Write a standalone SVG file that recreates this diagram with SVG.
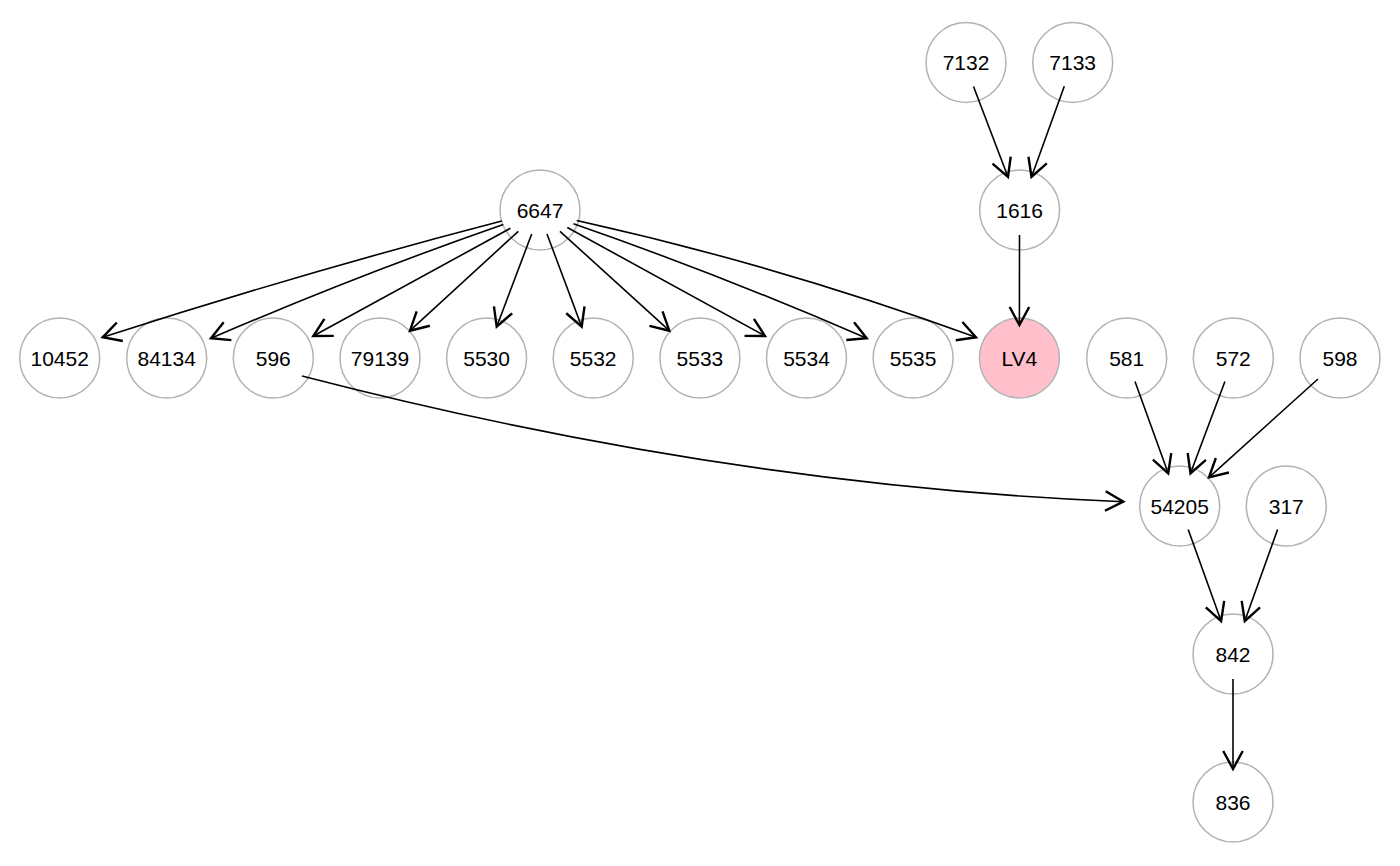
<svg xmlns="http://www.w3.org/2000/svg" width="1400" height="866" viewBox="0 0 1400 866">
<defs>
<marker id="arr" markerUnits="userSpaceOnUse" orient="auto" refX="0" refY="0" markerWidth="30" markerHeight="30" viewBox="-15 -10 20 20" overflow="visible">
<path d="M-12,-6.5 L0,0 L-12,6.5" fill="none" stroke="#000" stroke-width="1.6"/>
</marker>
<style>
.n circle{fill:#fff;stroke:#b3b3b3;stroke-width:1.5}
.n text{font-family:"Liberation Sans",Arial,sans-serif;font-size:21px;fill:#000;text-anchor:middle}
.e path{fill:none;stroke:#000;stroke-width:1.6;marker-end:url(#arr)}
#LV4 circle{fill:#ffc0cb}
</style>
</defs>
<rect width="1400" height="866" fill="#fff"/>
<g id="n7132" class="n"><circle cx="966" cy="62.5" r="40"/><text x="966" y="70">7132</text></g>
<g id="n7133" class="n"><circle cx="1072.7" cy="62.5" r="40"/><text x="1072.7" y="70">7133</text></g>
<g id="n6647" class="n"><circle cx="540" cy="210" r="40"/><text x="540" y="217.5">6647</text></g>
<g id="n1616" class="n"><circle cx="1019.6" cy="210" r="40"/><text x="1019.6" y="217.5">1616</text></g>
<g id="n10452" class="n"><circle cx="59.7" cy="358" r="40"/><text x="59.7" y="365.5">10452</text></g>
<g id="n84134" class="n"><circle cx="166.7" cy="358" r="40"/><text x="166.7" y="365.5">84134</text></g>
<g id="n596" class="n"><circle cx="273.3" cy="358" r="40"/><text x="273.3" y="365.5">596</text></g>
<g id="n79139" class="n"><circle cx="380" cy="358" r="40"/><text x="380" y="365.5">79139</text></g>
<g id="n5530" class="n"><circle cx="486.6" cy="358" r="40"/><text x="486.6" y="365.5">5530</text></g>
<g id="n5532" class="n"><circle cx="593.2" cy="358" r="40"/><text x="593.2" y="365.5">5532</text></g>
<g id="n5533" class="n"><circle cx="699.9" cy="358" r="40"/><text x="699.9" y="365.5">5533</text></g>
<g id="n5534" class="n"><circle cx="806.5" cy="358" r="40"/><text x="806.5" y="365.5">5534</text></g>
<g id="n5535" class="n"><circle cx="913.1" cy="358" r="40"/><text x="913.1" y="365.5">5535</text></g>
<g id="LV4" class="n"><circle cx="1019.4" cy="358" r="40"/><text x="1019.4" y="365.5">LV4</text></g>
<g id="n581" class="n"><circle cx="1126.7" cy="358" r="40"/><text x="1126.7" y="365.5">581</text></g>
<g id="n572" class="n"><circle cx="1233.3" cy="358" r="40"/><text x="1233.3" y="365.5">572</text></g>
<g id="n598" class="n"><circle cx="1340" cy="358" r="40"/><text x="1340" y="365.5">598</text></g>
<g id="n54205" class="n"><circle cx="1179.7" cy="506" r="40"/><text x="1179.7" y="513.5">54205</text></g>
<g id="n317" class="n"><circle cx="1286.3" cy="506" r="40"/><text x="1286.3" y="513.5">317</text></g>
<g id="n842" class="n"><circle cx="1233" cy="654" r="40"/><text x="1233" y="661.5">842</text></g>
<g id="n836" class="n"><circle cx="1233" cy="802" r="40"/><text x="1233" y="809.5">836</text></g>
<g id="edges" class="e">
<path d="M501.7,221 Q300.5,273.4 102.7,337.3"/>
<path d="M503.3,224.5 Q358,275 211,338.3"/>
<path d="M510.4,228.3 L313.3,336"/>
<path d="M518.3,231.3 L410,330.7"/>
<path d="M531.7,234 L496.7,326.7"/>
<path d="M547,234 L581.7,326.7"/>
<path d="M560,231.3 L669.3,330.7"/>
<path d="M567.3,227.5 L765,336"/>
<path d="M573.5,223.8 Q721,275 866.7,338.3"/>
<path d="M576.7,220.5 Q780,265.6 976,337.3"/>
<path d="M973.5,86.5 L1008,177"/>
<path d="M1064.3,86.2 L1031.5,177"/>
<path d="M1019.5,235 L1019.4,325"/>
<path d="M302,376 Q727,486 1123.3,501.7"/>
<path d="M1135,381.5 L1168.2,473.3"/>
<path d="M1224.9,381.5 L1190.5,473.3"/>
<path d="M1318,379 L1209,477.3"/>
<path d="M1188.2,529.5 L1221.1,621.1"/>
<path d="M1277.6,529.5 L1244.8,621.1"/>
<path d="M1233,679 L1233,769"/>
</g>
</svg>
